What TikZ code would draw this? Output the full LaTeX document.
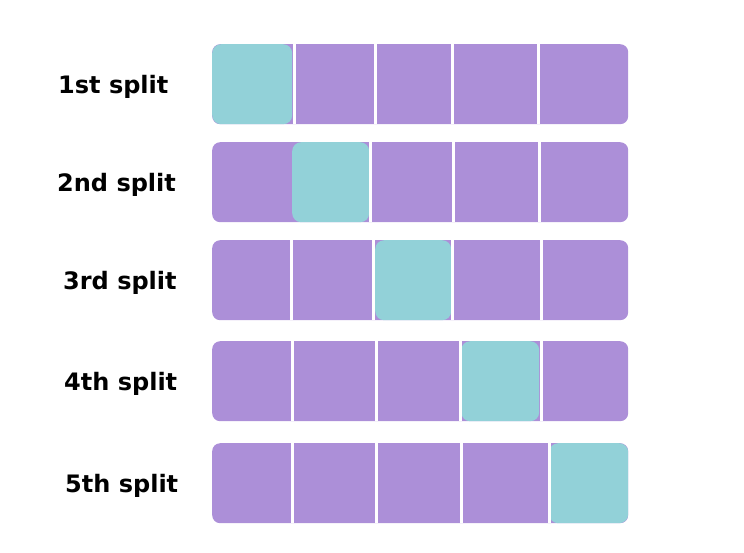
\documentclass[tikz,border=0pt]{standalone}
\usepackage{fontspec}
\setmainfont{DejaVu Sans}
\usetikzlibrary{positioning}
\definecolor{foldpurple}{RGB}{172,143,216}
\definecolor{foldteal}{RGB}{146,209,216}

\tikzset{
  rowbar/.style={fill=foldpurple, rounded corners=8pt, minimum width=416pt,
    minimum height=80pt, inner sep=0pt, anchor=north west},
  testbox/.style={fill=foldteal, rounded corners=9pt, minimum height=80pt,
    inner sep=0pt, anchor=north west},
  splitlabel/.style={font=\bfseries\fontsize{24}{28}\selectfont, anchor=west, inner sep=0pt},
  gap/.style={white, line width=3pt}
}

\begin{document}
\begin{tikzpicture}[x=1pt,y=-1pt]
\useasboundingbox (0,0) rectangle (744,552);
% one row per split: top, test fold left/right, label, label x, dividers
\foreach \i/\yt/\tl/\tr/\lab/\lx/\divs in {
    1/44/212/292/1st/58/{294,375,452,538},
    2/142/292/369/2nd/57/{370,453,539},
    3/240/375/451/3rd/63/{291,373,452,541},
    4/341/461/539/4th/64/{292,376,460,541},
    5/443/549/628/5th/65/{292,376,461,549}} {
  \pgfmathsetmacro\tw{\tr-\tl}
  \node[rowbar] (row\i) at (212,\yt) {};
  \node[testbox, minimum width=\tw pt] (test\i) at (\tl,\yt) {};
  \foreach \d in \divs
    \draw[gap] (\d,\yt) -- (\d,\yt+80);
  \node[splitlabel] (lab\i) at (\lx,\yt+43) {\lab\ split};
}
\end{tikzpicture}
\end{document}
